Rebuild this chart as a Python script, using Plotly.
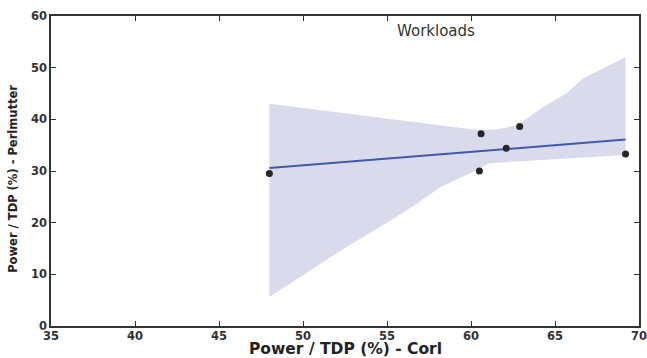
import numpy as np
import plotly.graph_objects as go

# Data
corl = [48.0, 60.6, 60.5, 62.1, 62.9, 69.2]
perlmutter = [29.5, 37.2, 30.0, 34.4, 38.6, 33.3]

# Confidence band edges
band_upper_x = [48.0, 60.5, 61.6, 62.8, 64.2, 65.7, 66.7, 69.2]
band_upper_y = [43.0, 37.9, 38.1, 38.9, 42.2, 45.1, 48.0, 52.0]
band_lower_x = [48.0, 52.3, 56.2, 58.2, 60.1, 61.1, 64.1, 69.2]
band_lower_y = [5.6, 14.7, 22.4, 26.9, 29.8, 31.5, 32.1, 33.1]

x_ticks = [35, 40, 45, 50, 55, 60, 65, 70]
y_ticks = [0, 10, 20, 30, 40, 50, 60]

slope, intercept = np.polyfit(corl, perlmutter, 1)
fit_x = [min(corl), max(corl)]
fit_y = [slope * v + intercept for v in fit_x]

fig = go.Figure()
fig.add_trace(go.Scatter(
    x=band_upper_x + band_lower_x[::-1],
    y=band_upper_y + band_lower_y[::-1],
    fill="toself", fillcolor="#d9dbec", line=dict(width=0),
    mode="lines", hoverinfo="skip", showlegend=False))
fig.add_trace(go.Scatter(x=fit_x, y=fit_y, mode="lines",
                         line=dict(color="#3f5aab", width=2), showlegend=False))
fig.add_trace(go.Scatter(x=corl, y=perlmutter, mode="markers",
                         marker=dict(color="#262626", size=7), showlegend=False))

fig.add_annotation(x=57.9, y=57.1, text="Workloads", showarrow=False,
                   font=dict(family="DejaVu Sans", size=15, color="#333333"))

# Axis titles as annotations for precise placement
fig.add_annotation(xref="paper", yref="paper", x=0.5, y=-0.074, yanchor="middle",
                   text="Power / TDP (%) - Corl", showarrow=False,
                   font=dict(family="DejaVu Sans", size=15.5, color="#222222", weight="bold"))
fig.add_annotation(xref="paper", yref="paper", x=-0.065, y=0.474, xanchor="center",
                   yanchor="middle", textangle=-90,
                   text="Power / TDP (%) - Perlmutter", showarrow=False,
                   font=dict(family="DejaVu Sans", size=11.5, color="#222222", weight="bold"))

axis_common = dict(showline=True, linecolor="#333333", linewidth=1.5, mirror="ticks",
                   ticks="inside", ticklen=5, tickcolor="#333333", showgrid=False,
                   zeroline=False, automargin=False, ticklabeloverflow="allow",
                   tickfont=dict(family="DejaVu Sans", size=11.5, color="#333333", weight="bold"))

fig.update_xaxes(range=[35, 70], tickvals=x_ticks, ticklabelstandoff=-2, **axis_common)
fig.update_yaxes(range=[0, 60], tickvals=y_ticks, **axis_common)

fig.update_layout(width=647, height=358, margin=dict(l=51, r=8, t=16, b=32),
                  plot_bgcolor="white", paper_bgcolor="white")
fig.write_html("out.html")
